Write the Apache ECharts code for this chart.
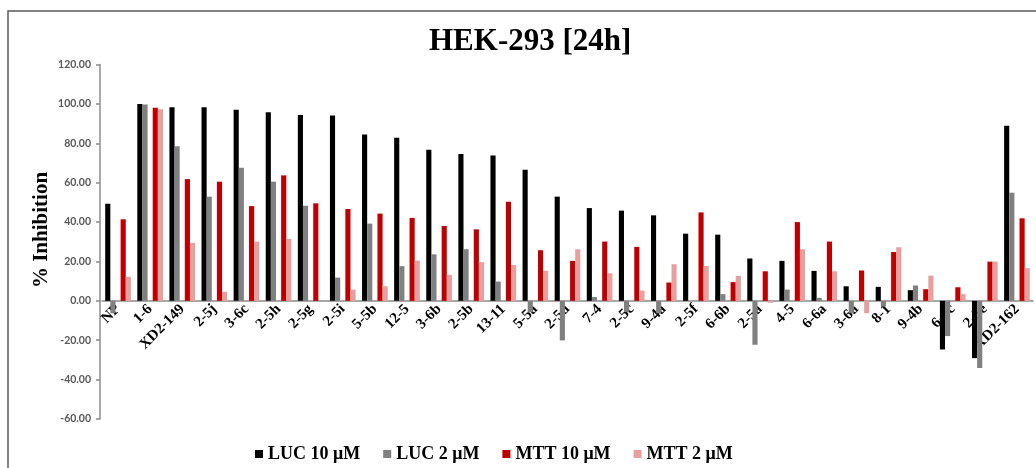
<!DOCTYPE html>
<html>
<head>
<meta charset="utf-8">
<script src="https://cdn.jsdelivr.net/npm/echarts@6/dist/echarts.min.js"></script>
<style>
  html, body { margin: 0; padding: 0; background: #ffffff; }
  #chart { width: 1036px; height: 468px; }
</style>
</head>
<body>
<div id="chart"></div>
<script>
// Compound panel, % inhibition in HEK-293 cells after 24 h
const categories = ['NP', '1-6', 'XD2-149', '2-5j', '3-6c', '2-5h', '2-5g', '2-5i', '5-5b', '12-5',
  '3-6b', '2-5b', '13-11', '5-5a', '2-5d', '7-4', '2-5c', '9-4a', '2-5f', '6-6b', '2-5a', '4-5',
  '6-6a', '3-6a', '8-1', '9-4b', '6-6c', '2-5e', 'XD2-162'];

const luc10 = [49.3, 100.0, 98.3, 98.3, 97.0, 95.8, 94.4, 94.1, 84.5, 82.8,
  76.7, 74.5, 73.8, 66.6, 52.9, 47.1, 45.8, 43.4, 34.1, 33.6, 21.5, 20.3,
  15.2, 7.4, 7.1, 5.4, -24.7, -29.1, 88.9];
const luc2 = [-6.3, 99.7, 78.5, 52.9, 67.6, 60.5, 48.3, 11.8, 39.2, 17.6,
  23.6, 26.2, 9.8, -5.7, -20.1, 1.9, -5.7, -6.3, 0.0, 3.4, -22.3, 5.7,
  1.5, -6.3, -2.9, 7.8, -17.9, -34.1, 54.9];
const mtt10 = [41.4, 98.1, 61.8, 60.5, 48.1, 63.7, 49.5, 46.6, 44.3, 42.1,
  38.0, 36.3, 50.3, 25.7, 20.3, 30.1, 27.4, 9.3, 44.9, 9.5, 15.0, 40.0,
  30.1, 15.4, 24.8, 5.9, 6.9, 19.9, 41.9];
const mtt2 = [12.2, 97.3, 29.4, 4.6, 30.1, 31.4, 0.0, 5.7, 7.4, 20.4,
  13.2, 19.6, 18.2, 15.2, 26.2, 14.0, 5.2, 18.6, 17.7, 12.7, -1.0, 26.2,
  15.0, -6.3, 27.2, 12.8, 3.4, 19.9, 16.6];

const yTicks = { min: -60, max: 120, step: 20 };

const seriesNames = ['LUC 10 μM', 'LUC 2 μM', 'MTT 10 μM', 'MTT 2 μM'];
const seriesColors = ['#000000', '#808080', '#C00000', '#E6A0A0'];

const serif = '"Liberation Serif", "Times New Roman", serif';

// Plot box
const W = 1036, H = 468;
const gridBox = { left: 102, right: 3, top: 64.5, bottom: 49 };
const plotHeight = H - gridBox.top - gridBox.bottom;
// Lift the category axis (line and labels) from the bottom edge up to the zero line
const zeroLift = plotHeight * (0 - yTicks.min) / (yTicks.max - yTicks.min);

const chart = echarts.init(document.getElementById('chart'), null, { renderer: 'canvas' });

function barSeries(name, data, color) {
  return {
    name: name,
    type: 'bar',
    data: data,
    itemStyle: { color: color },
    barGap: '0%',
    barCategoryGap: '20%',
    emphasis: { disabled: true }
  };
}

// An empty slot separates the LUC pair from the MTT pair in each cluster
const gapSlot = {
  name: 'gap',
  type: 'bar',
  data: [],
  silent: true,
  barGap: '0%',
  barCategoryGap: '20%'
};

chart.setOption({
  animation: false,
  backgroundColor: '#ffffff',
  title: {
    text: 'HEK-293 [24h]',
    left: 424,
    top: 21,
    textStyle: { fontFamily: serif, fontSize: 31, fontWeight: 'bold', color: '#000000' }
  },
  legend: {
    data: seriesNames,
    left: 250,
    top: 440,
    icon: 'rect',
    itemWidth: 8,
    itemHeight: 8,
    itemGap: 23,
    textStyle: { fontFamily: serif, fontSize: 18, fontWeight: 'bold', color: '#000000' }
  },
  grid: Object.assign({ containLabel: false }, gridBox),
  xAxis: {
    type: 'category',
    data: categories,
    position: 'bottom',
    offset: -zeroLift,
    axisLine: { onZero: false, lineStyle: { color: '#8c8c8c', width: 1.5 } },
    axisTick: { show: false },
    axisLabel: {
      interval: 0,
      rotate: 45,
      margin: 6,
      fontFamily: serif,
      fontSize: 15,
      fontWeight: 'bold',
      color: '#000000'
    },
    splitLine: { show: false }
  },
  yAxis: {
    type: 'value',
    min: yTicks.min,
    max: yTicks.max,
    interval: yTicks.step,
    offset: 2,
    axisLine: { show: true, lineStyle: { color: '#8c8c8c', width: 1.5 } },
    axisTick: { show: true, length: 4, lineStyle: { color: '#8c8c8c', width: 1.5 } },
    axisLabel: {
      margin: 9,
      fontFamily: 'Lato, "Open Sans", sans-serif',
      fontSize: 10.5,
      fontWeight: 'bold',
      color: '#595959',
      formatter: v => v.toFixed(2)
    },
    splitLine: { show: false }
  },
  graphic: [
    {
      type: 'rect',
      silent: true,
      shape: { x: 8, y: 11, width: 1060, height: 480 },
      style: { fill: 'none', stroke: '#595959', lineWidth: 1.5 }
    },
    {
      type: 'text',
      silent: true,
      x: 42,
      y: 230,
      rotation: Math.PI / 2,
      style: {
        text: '% Inhibition',
        fontFamily: serif,
        fontSize: 21,
        fontWeight: 'bold',
        fill: '#000000',
        align: 'center',
        verticalAlign: 'middle'
      }
    }
  ],
  series: [
    barSeries(seriesNames[0], luc10, seriesColors[0]),
    barSeries(seriesNames[1], luc2, seriesColors[1]),
    gapSlot,
    barSeries(seriesNames[2], mtt10, seriesColors[2]),
    barSeries(seriesNames[3], mtt2, seriesColors[3])
  ]
});
</script>
</body>
</html>
